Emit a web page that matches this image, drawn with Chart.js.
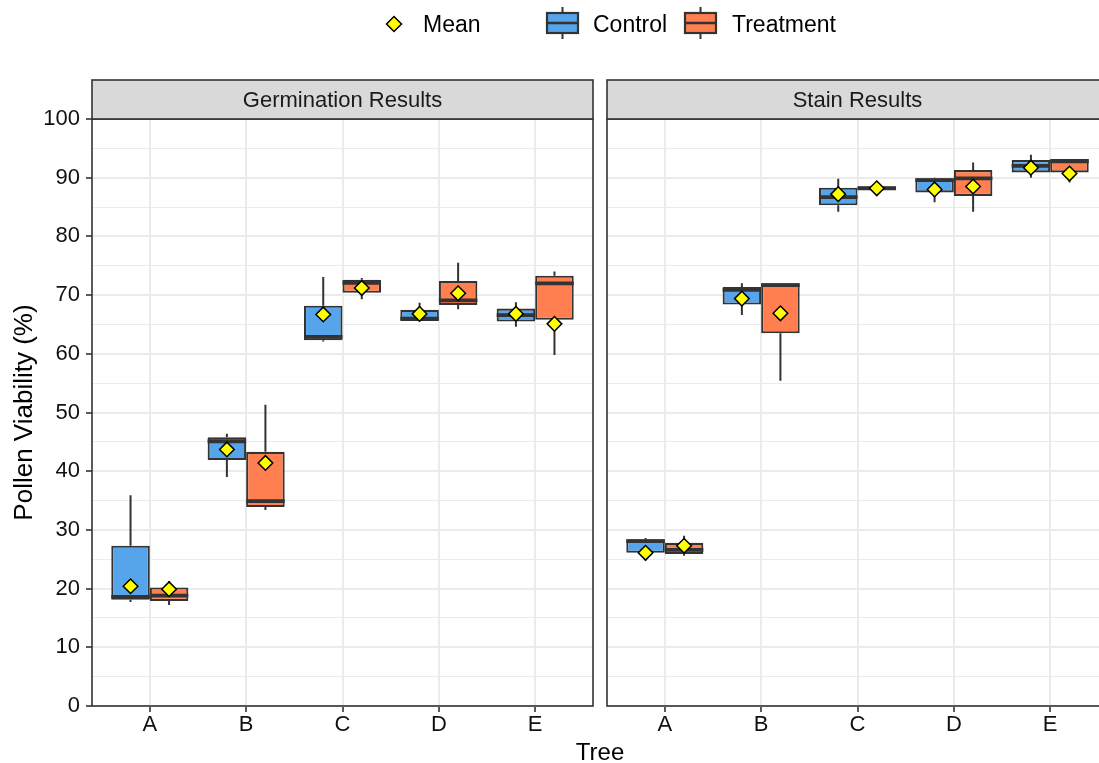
<!DOCTYPE html>
<html>
<head>
<meta charset="utf-8">
<script src="https://cdn.jsdelivr.net/npm/chart.js@4.4.1/dist/chart.umd.min.js"></script>
<style>
html,body{margin:0;padding:0;background:#ffffff;}
#wrap{position:relative;width:1099px;height:763px;overflow:hidden;background:#ffffff;
  font-family:"Liberation Sans",Arial,Helvetica,sans-serif;color:#000;}
canvas{position:absolute;left:0;top:0;}
.lbl{position:absolute;white-space:nowrap;height:30px;line-height:30px;}
</style>
</head>
<body>
<div id="wrap">
  <canvas id="c1" width="1099" height="763"></canvas>
  <canvas id="c2" width="1120" height="763"></canvas>
  <svg id="legendSvg" width="1099" height="50" style="position:absolute;left:0;top:0"></svg>
  <div class="lbl" id="legMean" style="left:423px;top:9px;font-size:23px"></div>
  <div class="lbl" id="legS0" style="left:593px;top:9px;font-size:23px"></div>
  <div class="lbl" id="legS1" style="left:732px;top:9px;font-size:23px"></div>
  <div class="lbl" id="xTitle" style="left:500px;width:200px;text-align:center;top:737px;font-size:24px"></div>
</div>
<script>
// ---------------- data ----------------
const categories = ['A', 'B', 'C', 'D', 'E'];
const seriesNames = ['Control', 'Treatment'];
const meanLabel = 'Mean';
const panelTitles = ['Germination Results', 'Stain Results'];
const xTitle = 'Tree';
const yTitle = 'Pollen Viability (%)';

// Germination – Control
const germCtrlMin  = [17.7, 39.0, 62.1, 65.6, 64.6];
const germCtrlQ1   = [18.1, 41.9, 62.3, 65.6, 65.5];
const germCtrlMed  = [18.6, 45.1, 62.9, 66.0, 66.6];
const germCtrlQ3   = [27.3, 45.8, 68.2, 67.5, 67.7];
const germCtrlMax  = [35.9, 46.4, 73.1, 68.7, 68.8];
const germCtrlMean = [20.4, 43.7, 66.7, 66.8, 66.8];
// Germination – Treatment
const germTrtMin  = [17.2, 33.4, 69.3, 67.6, 59.8];
const germTrtQ1   = [17.9, 33.9, 70.4, 68.3, 65.8];
const germTrtMed  = [18.8, 34.9, 72.1, 69.1, 72.0];
const germTrtQ3   = [20.2, 43.3, 72.6, 72.4, 73.3];
const germTrtMax  = [21.3, 51.3, 72.9, 75.5, 74.0];
const germTrtMean = [19.9, 41.4, 71.2, 70.3, 65.1];
// Stain – Control
const stainCtrlMin  = [24.8, 66.6, 84.2, 85.8, 90.0];
const stainCtrlQ1   = [26.1, 68.4, 85.3, 87.5, 90.9];
const stainCtrlMed  = [28.1, 70.9, 86.7, 89.6, 92.0];
const stainCtrlQ3   = [28.4, 71.4, 88.3, 89.9, 93.0];
const stainCtrlMax  = [28.6, 72.0, 89.8, 90.0, 93.9];
const stainCtrlMean = [26.1, 69.4, 87.2, 88.0, 91.7];
// Stain – Treatment
const stainTrtMin  = [25.6, 55.4, 87.9, 84.2, 89.2];
const stainTrtQ1   = [25.9, 63.5, 88.0, 86.9, 90.9];
const stainTrtMed  = [26.6, 71.7, 88.2, 89.9, 92.8];
const stainTrtQ3   = [27.8, 72.0, 88.5, 91.3, 93.2];
const stainTrtMax  = [29.0, 72.0, 88.6, 92.6, 93.2];
const stainTrtMean = [27.3, 66.9, 88.2, 88.5, 90.7];

const Y_MIN = 0, Y_MAX = 100, Y_STEP = 5, Y_LABEL_STEP = 10;

// ---------------- style ----------------
const FONT = '"Liberation Sans", Arial, Helvetica, sans-serif';
const BOX_COLORS = ['#56A5EB', '#FF7F50'];
const DARK = '#333333';
const GRID = '#EBEBEB';
const DODGE = 0.2;          // half of dodge spacing, in category units
const X_EXPAND = 0.6;       // ggplot discrete expansion
const STRIP_TOP = 80;

function stats(min, q1, med, q3, max, mean) { return {min, q1, med, q3, max, mean}; }

const panels = [
  { title: panelTitles[0], series: [
      stats(germCtrlMin, germCtrlQ1, germCtrlMed, germCtrlQ3, germCtrlMax, germCtrlMean),
      stats(germTrtMin, germTrtQ1, germTrtMed, germTrtQ3, germTrtMax, germTrtMean) ] },
  { title: panelTitles[1], series: [
      stats(stainCtrlMin, stainCtrlQ1, stainCtrlMed, stainCtrlQ3, stainCtrlMax, stainCtrlMean),
      stats(stainTrtMin, stainTrtQ1, stainTrtMed, stainTrtQ3, stainTrtMax, stainTrtMean) ] }
];

// ---------------- plugins ----------------
const boxPlugin = {
  id: 'boxWhiskers',
  afterDatasetDraw(chart, args) {
    const meta = args.meta;
    if (meta.type !== 'bar') return;
    const st = chart.data.datasets[args.index].stats;
    const y = chart.scales.y;
    const ctx = chart.ctx;
    ctx.save();
    ctx.strokeStyle = DARK;
    ctx.lineCap = 'butt';
    meta.data.forEach((el, i) => {
      const w = el.width;
      ctx.lineWidth = 2;
      ctx.beginPath();
      ctx.moveTo(el.x, y.getPixelForValue(st.q3[i]));
      ctx.lineTo(el.x, y.getPixelForValue(st.max[i]));
      ctx.moveTo(el.x, y.getPixelForValue(st.q1[i]));
      ctx.lineTo(el.x, y.getPixelForValue(st.min[i]));
      ctx.stroke();
      const ym = y.getPixelForValue(st.med[i]);
      ctx.lineWidth = 3.8;
      ctx.beginPath();
      ctx.moveTo(el.x - w / 2, ym);
      ctx.lineTo(el.x + w / 2, ym);
      ctx.stroke();
    });
    ctx.restore();
  }
};

const panelPlugin = {
  id: 'panelDeco',
  afterDraw(chart, args, opts) {
    const {left, right, top, bottom} = chart.chartArea;
    const ctx = chart.ctx;
    ctx.save();
    ctx.strokeStyle = DARK;
    ctx.lineWidth = 1.6;
    ctx.strokeRect(left, top, right - left, bottom - top);
    ctx.fillStyle = '#D9D9D9';
    ctx.fillRect(left, STRIP_TOP, right - left, top - STRIP_TOP);
    ctx.strokeRect(left, STRIP_TOP, right - left, top - STRIP_TOP);
    ctx.fillStyle = '#1A1A1A';
    ctx.font = '22px ' + FONT;
    ctx.textAlign = 'center';
    ctx.textBaseline = 'middle';
    ctx.fillText(opts.title, (left + right) / 2, (STRIP_TOP + top) / 2 + 1);
    ctx.restore();
  }
};

// ---------------- builders ----------------
function buildDatasets(panel) {
  const meanPts = [];
  panel.series.forEach((s, k) => s.mean.forEach((m, i) =>
    meanPts.push({x: i + 1 + (k === 0 ? -DODGE : DODGE), y: m})));
  const ds = [{
    type: 'scatter', label: meanLabel, data: meanPts,
    pointStyle: 'rectRot', pointRadius: 7.3, pointHoverRadius: 7.3,
    pointBackgroundColor: '#FFFF00', pointBorderColor: '#000000', pointBorderWidth: 1.5,
    order: 0
  }];
  panel.series.forEach((s, k) => ds.push({
    type: 'bar', label: seriesNames[k],
    data: categories.map((c, i) => ({x: i + 1, y: [s.q1[i], s.q3[i]]})),
    stats: s,
    backgroundColor: BOX_COLORS[k], borderColor: DARK, borderWidth: 2.1, borderSkipped: false,
    categoryPercentage: 0.8, barPercentage: 1.0, grouped: true,
    order: k + 1
  }));
  return ds;
}

function xScale() {
  return {
    type: 'linear', min: 1 - X_EXPAND, max: categories.length + X_EXPAND,
    bounds: 'data', offset: false,
    afterBuildTicks: s => { s.ticks = categories.map((c, i) => ({value: i + 1})); },
    afterFit: s => { s.height = 57; },
    border: {display: false},
    grid: {offset: false, color: GRID, lineWidth: 2, drawTicks: true, tickLength: 6,
           tickColor: DARK, tickWidth: 1.6},
    ticks: {autoSkip: false, maxRotation: 0, padding: 2, color: '#111111',
            font: {family: FONT, size: 22, lineHeight: 1},
            callback: v => categories[v - 1] ?? ''},
    title: {display: false}
  };
}

function yScale(showLabels) {
  return {
    type: 'linear', min: Y_MIN, max: Y_MAX,
    afterFit: s => { s.width = showLabels ? 92 : 0; },
    border: {display: false},
    grid: {
      color: GRID,
      lineWidth: c => (c.tick && c.tick.value % Y_LABEL_STEP === 0) ? 2 : 1,
      drawTicks: showLabels, tickLength: 6, tickWidth: 1.6,
      tickColor: c => (c.tick && c.tick.value % Y_LABEL_STEP === 0) ? DARK : 'rgba(0,0,0,0)'
    },
    ticks: {display: showLabels, stepSize: Y_STEP, maxTicksLimit: 30, autoSkip: false, padding: 6,
            color: '#111111', font: {family: FONT, size: 22},
            callback: v => (v % Y_LABEL_STEP === 0 ? String(v) : '')},
    title: {display: showLabels, text: yTitle, color: '#000000',
            font: {family: FONT, size: 26, lineHeight: 1.2}, padding: {top: 9, bottom: 0}}
  };
}

function makeChart(canvasId, panel, isLeft, padding) {
  return new Chart(document.getElementById(canvasId), {
    type: 'bar',
    data: {datasets: buildDatasets(panel)},
    options: {
      responsive: false, animation: false, devicePixelRatio: 1, events: [],
      layout: {padding},
      scales: {x: xScale(), y: yScale(isLeft)},
      plugins: {legend: {display: false}, tooltip: {enabled: false},
                panelDeco: {title: panel.title}}
    },
    plugins: [boxPlugin, panelPlugin]
  });
}

makeChart('c1', panels[0], true,  {left: 0,   top: 119, right: 1099 - 593, bottom: 0});
makeChart('c2', panels[1], false, {left: 607, top: 119, right: 1120 - 1108, bottom: 0});

// ---------------- legend & shared x title (HTML) ----------------
document.getElementById('legMean').textContent = meanLabel;
document.getElementById('legS0').textContent = seriesNames[0];
document.getElementById('legS1').textContent = seriesNames[1];
document.getElementById('xTitle').textContent = xTitle;

const svg = document.getElementById('legendSvg');
const NS = 'http://www.w3.org/2000/svg';
function el(tag, attrs) { const e = document.createElementNS(NS, tag); for (const k in attrs) e.setAttribute(k, attrs[k]); svg.appendChild(e); return e; }
el('polygon', {points: '394,16.5 401.5,24 394,31.5 386.5,24', fill: '#FFFF00', stroke: '#000', 'stroke-width': 1.5});
[547, 685].forEach((x0, k) => {
  const cx = x0 + 15.5;
  el('line', {x1: cx, y1: 7, x2: cx, y2: 13, stroke: DARK, 'stroke-width': 2});
  el('line', {x1: cx, y1: 33, x2: cx, y2: 39, stroke: DARK, 'stroke-width': 2});
  el('rect', {x: x0, y: 13, width: 31, height: 20, fill: BOX_COLORS[k], stroke: DARK, 'stroke-width': 2.2});
  el('line', {x1: x0, y1: 23, x2: x0 + 31, y2: 23, stroke: DARK, 'stroke-width': 2.5});
});
</script>
</body>
</html>
